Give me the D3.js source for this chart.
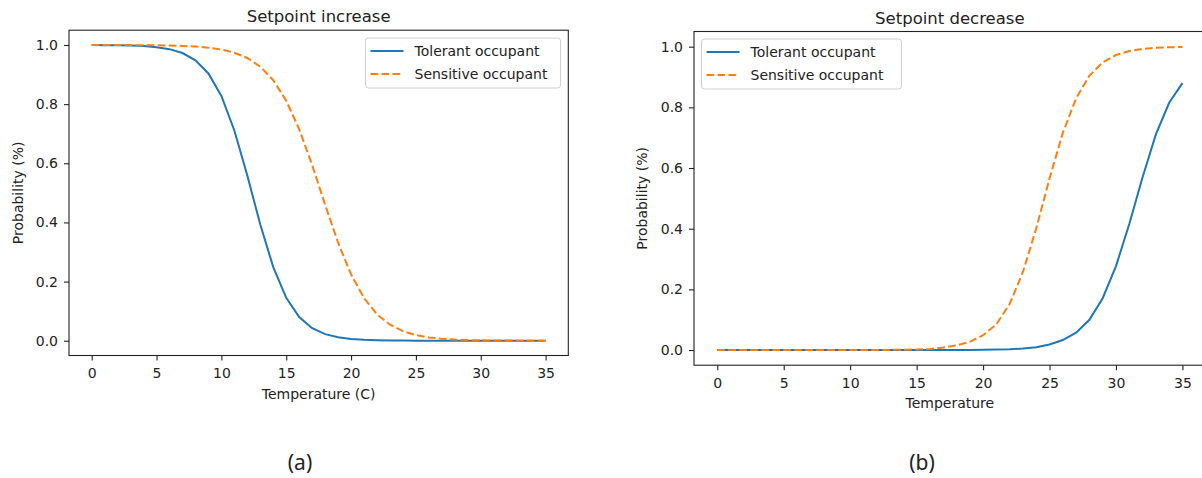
<!DOCTYPE html>
<html>
<head>
<meta charset="utf-8">
<script src="https://cdn.jsdelivr.net/npm/d3@7"></script>
<style>
  body { margin: 0; background: #fff; }
  svg { display: block; }
  text { font-family: "DejaVu Sans", sans-serif; fill: #222; }
</style>
</head>
<body>
<svg id="fig" width="1202" height="478"></svg>
<script>
// temperatures sampled at each degree
let temps = d3.range(0, 36)

// (a) setpoint increase
let tolIncrease = [0.9997, 0.9995, 0.9990, 0.9981, 0.9963, 0.9927, 0.9859, 0.9728, 0.9483, 0.9038,
    0.8278, 0.7109, 0.5585, 0.3928, 0.2487, 0.1449, 0.0798, 0.0425, 0.0222, 0.0115,
    0.0059, 0.0030, 0.0016, 0.0008, 0.0004, 0.0002, 0.0001, 0.0001, 0.0000, 0.0000,
    0.0000, 0.0000, 0.0000, 0.0000, 0.0000, 0.0000]
let sensIncrease = [0.9999, 0.9999, 0.9998, 0.9996, 0.9994, 0.9990, 0.9982, 0.9969, 0.9947, 0.9910,
    0.9846, 0.9739, 0.9560, 0.9269, 0.8808, 0.8116, 0.7150, 0.5938, 0.4596, 0.3314,
    0.2241, 0.1441, 0.0893, 0.0541, 0.0322, 0.0190, 0.0112, 0.0065, 0.0038, 0.0022,
    0.0013, 0.0008, 0.0004, 0.0003, 0.0002, 0.0001]

// (b) setpoint decrease
let tolDecrease = [0.0000, 0.0000, 0.0000, 0.0000, 0.0000, 0.0000, 0.0000, 0.0000, 0.0000, 0.0000,
    0.0000, 0.0000, 0.0000, 0.0000, 0.0000, 0.0000, 0.0000, 0.0001, 0.0002, 0.0004,
    0.0008, 0.0014, 0.0027, 0.0050, 0.0095, 0.0180, 0.0330, 0.0570, 0.0997, 0.1707,
    0.2767, 0.4156, 0.5693, 0.7107, 0.8150, 0.8800]
let sensDecrease = [0.0000, 0.0000, 0.0000, 0.0000, 0.0000, 0.0000, 0.0000, 0.0000, 0.0000, 0.0000,
    0.0001, 0.0001, 0.0002, 0.0005, 0.0009, 0.0018, 0.0034, 0.0080, 0.0150, 0.0270,
    0.0490, 0.0847, 0.1520, 0.2573, 0.4013, 0.5656, 0.7159, 0.8298, 0.9042, 0.9480,
    0.9724, 0.9856, 0.9925, 0.9961, 0.9980, 0.9990]

let xTicks = [0, 5, 10, 15, 20, 25, 30, 35]
let yTicks = [0, 0.2, 0.4, 0.6, 0.8, 1.0]
let seriesNames = ["Tolerant occupant", "Sensitive occupant"]
let colors = ["#1f77b4", "#ff7f0e"]

let svg = d3.select("#fig")

function drawPanel(config) {
    let x = d3.scaleLinear().domain([-1.75, 36.75]).range([config.left, config.right])
    let y = d3.scaleLinear().domain([-0.05, 1.05]).range([config.bottom, config.top])

    let g = svg.append("g")

    // lines, blue first so the dashed orange sits on top
    let line = d3.line()
        .x(function (d) { return x(d[0]) })
        .y(function (d) { return y(d[1]) })

    config.series.forEach(function (values, i) {
        g.append("path")
            .datum(temps.map(function (t, k) { return [t, values[k]] }))
            .attr("d", line)
            .attr("fill", "none")
            .attr("stroke", colors[i])
            .attr("stroke-width", 2)
            .attr("stroke-dasharray", i == 1 ? "7.7,3.3" : null)
    })

    // frame
    g.append("rect")
        .attr("x", config.left)
        .attr("y", config.top)
        .attr("width", config.right - config.left)
        .attr("height", config.bottom - config.top)
        .attr("fill", "none")
        .attr("stroke", "#222")
        .attr("stroke-width", 1.1)

    let xAxis = g.append("g")
        .attr("transform", "translate(0," + config.bottom + ")")
        .call(d3.axisBottom(x).tickValues(xTicks).tickFormat(d3.format("d")).tickSize(5).tickPadding(8))
    let yAxis = g.append("g")
        .attr("transform", "translate(" + config.left + ",0)")
        .call(d3.axisLeft(y).tickValues(yTicks).tickFormat(d3.format(".1f")).tickSize(5).tickPadding(6))

    ;[xAxis, yAxis].forEach(function (a) {
        a.select(".domain").remove()
        a.selectAll(".tick line").attr("stroke", "#222").attr("stroke-width", 1.1)
        a.selectAll(".tick text").style("font-size", "14px").style("font-family", "DejaVu Sans").attr("fill", "#222")
    })

    // title
    g.append("text")
        .attr("x", (config.left + config.right) / 2)
        .attr("y", config.top - 8)
        .attr("text-anchor", "middle")
        .style("font-size", "16.5px")
        .text(config.title)

    // axis labels
    g.append("text")
        .attr("x", (config.left + config.right) / 2)
        .attr("y", config.bottom + 43)
        .attr("text-anchor", "middle")
        .style("font-size", "14px")
        .text(config.xLabel)

    g.append("text")
        .attr("transform", "translate(" + config.yLabelX + "," + (config.top + config.bottom) / 2 + ") rotate(-90)")
        .attr("text-anchor", "middle")
        .attr("dy", "0.35em")
        .style("font-size", "14px")
        .text("Probability (%)")

    // legend
    let leg = g.append("g").attr("transform", "translate(" + config.legendX + "," + config.legendY + ")")
    leg.append("rect")
        .attr("width", config.legendW)
        .attr("height", 50)
        .attr("rx", 3)
        .attr("fill", "#fff")
        .attr("fill-opacity", 0.8)
        .attr("stroke", "#d0d0d0")
    seriesNames.forEach(function (name, i) {
        let ly = 13 + i * 23
        leg.append("line")
            .attr("x1", 5).attr("x2", 38)
            .attr("y1", ly).attr("y2", ly)
            .attr("stroke", colors[i])
            .attr("stroke-width", 2)
            .attr("stroke-dasharray", i == 1 ? "7.7,3.3" : null)
        leg.append("text")
            .attr("x", 49)
            .attr("y", ly)
            .attr("dy", "0.35em")
            .style("font-size", "14px")
            .text(name)
    })

    // caption under the panel
    svg.append("text")
        .attr("x", config.captionX)
        .attr("y", 470)
        .attr("text-anchor", "middle")
        .style("font-family", "Noto Sans")
        .style("font-size", "21px")
        .attr("fill", "#111")
        .text(config.caption)
}

drawPanel({
    left: 69, right: 568.3, top: 30.2, bottom: 355.5,
    series: [tolIncrease, sensIncrease],
    title: "Setpoint increase",
    xLabel: "Temperature (C)",
    yLabelX: 18,
    legendX: 365.5, legendY: 38, legendW: 195,
    caption: "(a)", captionX: 300
})

drawPanel({
    left: 694, right: 1205.7, top: 31.5, bottom: 365.2,
    series: [tolDecrease, sensDecrease],
    title: "Setpoint decrease",
    xLabel: "Temperature",
    yLabelX: 642,
    legendX: 701.5, legendY: 39, legendW: 200,
    caption: "(b)", captionX: 922
})
</script>
</body>
</html>
